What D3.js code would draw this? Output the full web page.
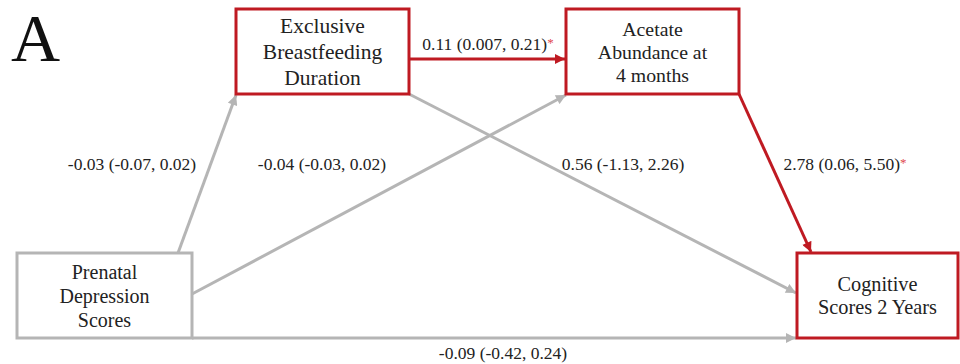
<!DOCTYPE html>
<html>
<head>
<meta charset="utf-8">
<script src="https://cdn.jsdelivr.net/npm/d3@7"></script>
<style>
  body { margin: 0; background: #fff; }
  text { font-family: "Liberation Serif", "Times New Roman", serif; fill: #222; }
</style>
</head>
<body>
<svg id="path-diagram"></svg>
<script>
// nodes of the mediation model
const nodeIds = ['dep', 'ebf', 'ace', 'cog'];
const nodeLabels = [
    ['Prenatal', 'Depression', 'Scores'],
    ['Exclusive', 'Breastfeeding', 'Duration'],
    ['Acetate', 'Abundance at', '4 months'],
    ['Cognitive', 'Scores 2 Years']
];
const nodeSignificant = [false, true, true, true];

// paths: estimate (lower, upper)
const edgeFrom = ['dep', 'dep', 'ebf', 'ebf', 'ace', 'dep'];
const edgeTo = ['ebf', 'ace', 'ace', 'cog', 'cog', 'cog'];
const edgeEst = [-0.03, -0.04, 0.11, 0.56, 2.78, -0.09];
const edgeLo = [-0.07, -0.03, 0.007, -1.13, 0.06, -0.42];
const edgeHi = [0.02, 0.02, 0.21, 2.26, 5.50, 0.24];
const edgeSig = [false, false, true, false, true, false];

const panelLabel = 'A';

const width = 960, height = 364;
const red = '#bf1a22', gray = '#b5b5b5';

const svg = d3.select('#path-diagram')
    .attr('width', width)
    .attr('height', height);

// layout grid (in pixels through scales)
const x = d3.scaleLinear().domain([0, 1]).range([0, width]);
const y = d3.scaleLinear().domain([0, 1]).range([0, height]);

const boxes = {
    dep: {x0: 17, x1: 192, y0: 253, y1: 338},
    ebf: {x0: 236, x1: 409, y0: 9, y1: 94},
    ace: {x0: 566, x1: 739, y0: 9, y1: 94},
    cog: {x0: 797, x1: 958, y0: 253, y1: 338}
};
const lineGap = {dep: 24, ebf: 26, ace: 23, cog: 23};
const boxFont = {dep: 20, ebf: 21.5, ace: 19.8, cog: 20.3};

// where each edge leaves / enters its boxes, and where its label sits
const edgeGeom = [
    {s: [178, 253], t: [236, 95], lx: 132, ly: 164},
    {s: [192, 294], t: [566, 95], lx: 322, ly: 164},
    {s: [409, 59], t: [565, 59], lx: 488, ly: 44},
    {s: [409, 94], t: [796, 293], lx: 623, ly: 164},
    {s: [739, 94], t: [811, 252], lx: 845, ly: 164},
    {s: [192, 338], t: [796, 338], lx: 503, ly: 353}
];

const fmt = v => (Math.abs(v) > 0 && Math.abs(v) < 0.01 ? d3.format('.3f') : d3.format('.2f'))(v)
    .replace('−', '-');

const defs = svg.append('defs');
[['arrow-red', red], ['arrow-gray', gray]].forEach(([id, c]) => {
    defs.append('marker')
        .attr('id', id)
        .attr('viewBox', '0 -5 10 10')
        .attr('refX', 10)
        .attr('refY', 0)
        .attr('markerUnits', 'userSpaceOnUse')
        .attr('markerWidth', 11)
        .attr('markerHeight', 10)
        .attr('orient', 'auto')
        .append('path')
        .attr('d', 'M0,-5L10,0L0,5Z')
        .attr('fill', c);
});

const edges = edgeFrom.map((f, i) => ({
    from: f, to: edgeTo[i], est: edgeEst[i], lo: edgeLo[i], hi: edgeHi[i],
    sig: edgeSig[i], g: edgeGeom[i]
}));

// lines first so boxes sit on top
svg.append('g')
    .selectAll('line')
    .data(edges)
    .join('line')
    .attr('x1', d => x(d.g.s[0] / width))
    .attr('y1', d => y(d.g.s[1] / height))
    .attr('x2', d => x(d.g.t[0] / width))
    .attr('y2', d => y(d.g.t[1] / height))
    .attr('stroke', d => d.sig ? red : gray)
    .attr('stroke-width', 3)
    .attr('marker-end', d => d.sig ? 'url(#arrow-red)' : 'url(#arrow-gray)');

const nodes = nodeIds.map((id, i) => ({id, lines: nodeLabels[i], sig: nodeSignificant[i], b: boxes[id]}));

const nodeG = svg.append('g')
    .selectAll('g')
    .data(nodes)
    .join('g');

nodeG.append('rect')
    .attr('x', d => x(d.b.x0 / width))
    .attr('y', d => y(d.b.y0 / height))
    .attr('width', d => x((d.b.x1 - d.b.x0) / width))
    .attr('height', d => y((d.b.y1 - d.b.y0) / height))
    .attr('fill', '#fff')
    .attr('stroke', d => d.sig ? red : gray)
    .attr('stroke-width', 3);

nodeG.append('text')
    .attr('text-anchor', 'middle')
    .attr('font-size', d => boxFont[d.id])
    .each(function (d) {
        const cx = (d.b.x0 + d.b.x1) / 2;
        const cy = (d.b.y0 + d.b.y1) / 2;
        const gap = lineGap[d.id];
        const n = d.lines.length;
        d3.select(this).selectAll('tspan')
            .data(d.lines)
            .join('tspan')
            .attr('x', x(cx / width))
            .attr('y', (_, j) => y((cy + (j - (n - 1) / 2) * gap + 7) / height))
            .text(t => t);
    });

// path coefficients
const lab = svg.append('g')
    .selectAll('text')
    .data(edges)
    .join('text')
    .attr('x', d => x(d.g.lx / width))
    .attr('y', d => y((d.g.ly + 6) / height))
    .attr('text-anchor', 'middle')
    .attr('font-size', 17.5);

lab.append('tspan')
    .text(d => `${fmt(d.est)} (${fmt(d.lo)}, ${fmt(d.hi)})`);
lab.filter(d => d.sig)
    .append('tspan')
    .attr('dy', -3)
    .attr('font-size', 13)
    .style('fill', '#e0474c')
    .text('*');

svg.append('text')
    .attr('x', 11)
    .attr('y', 61)
    .attr('font-size', 68)
    .style('fill', '#111')
    .text(panelLabel);
</script>
</body>
</html>
